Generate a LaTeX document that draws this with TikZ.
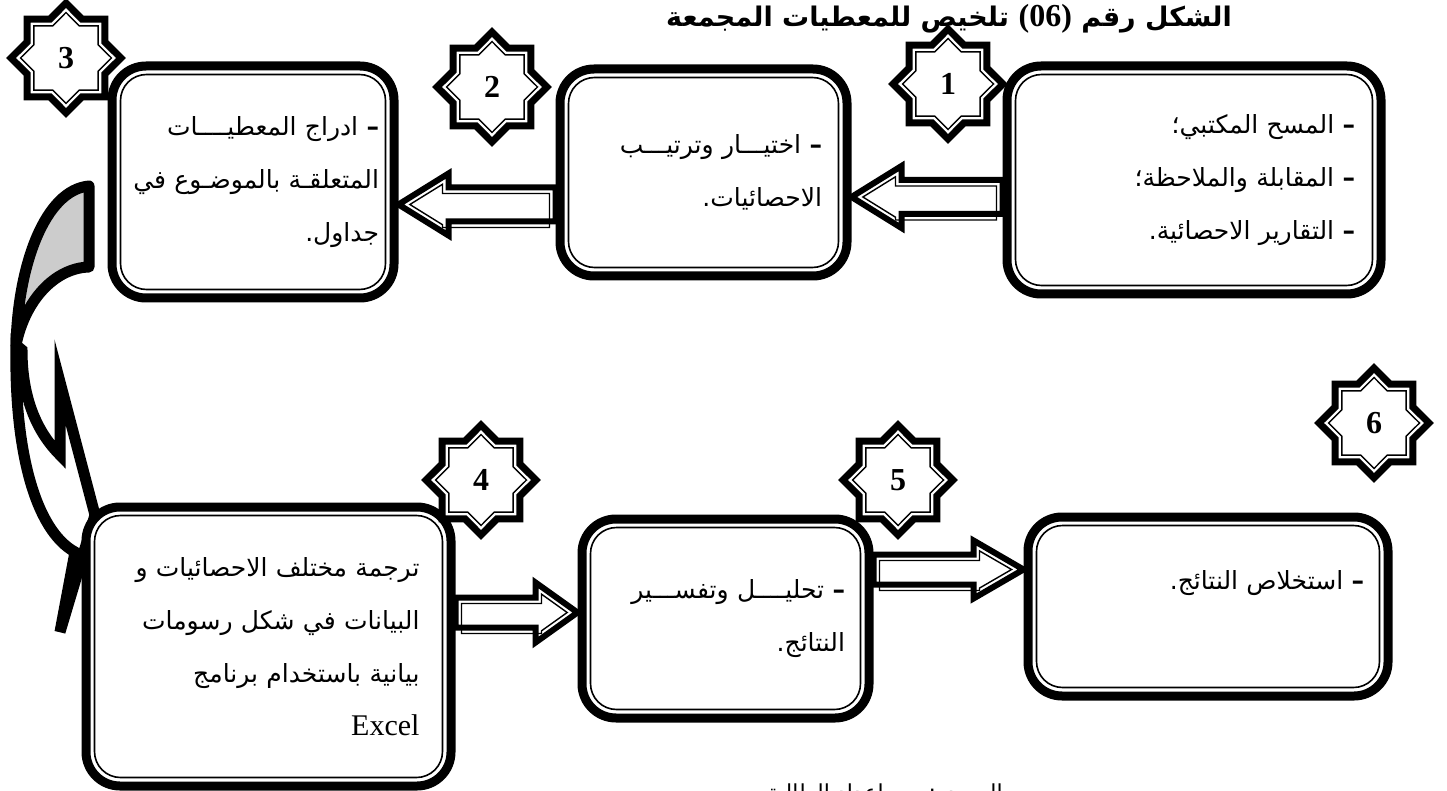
\documentclass[tikz,border=0pt]{standalone}
\usepackage{fontspec}
\usepackage{xcolor}
\usepackage{tikz}
\usetikzlibrary{calc,positioning,shapes.geometric}
\setmainfont{Liberation Serif}
\newfontfamily\arabicfont[Script=Arabic]{DejaVu Sans}
\TeXXeTstate=1
\definecolor{FrameInk}{HTML}{000000}
\definecolor{FoldGray}{HTML}{CCCCCC}
\definecolor{PageWhite}{HTML}{FFFFFF}
\newcommand{\dashmark}{{\bfseries –}\ }
\newcommand{\innerframe}[1]{%
    \draw[FrameInk, line width=1.6pt, rounded corners=26pt] ($(#1.north west)+(13,13)$) rectangle ($(#1.south east)+(-13,-13)$);
}
\newcommand{\arrowbody}[6]{%
    \draw[#1] let \p1=(#2), \p2=(#3), \n1={sign(\x2-\x1)} in
        (\x1,\y1+#4) -- (\x2-\n1*#6,\y1+#4) -- (\x2-\n1*#6,\y1+#5) -- (\x2,\y1)
        -- (\x2-\n1*#6,\y1-#5) -- (\x2-\n1*#6,\y1-#4) -- (\x1,\y1-#4) -- cycle;
}
\newcommand{\flowarrow}[5]{%
    \pgfmathsetmacro{\insetTip}{6/sin(atan(#4/#5))}
    \pgfmathsetmacro{\innerLen}{#5-6-\insetTip}
    \pgfmathsetmacro{\innerHead}{#4/#5*\innerLen}
    \arrowbody{arrowout}{#1}{#2}{#3pt}{#4pt}{#5pt}
    \arrowbody{arrowin}{$(#1)!6pt!(#2)$}{$(#2)!\insetTip pt!(#1)$}{#3pt-6pt}{\innerHead pt}{\innerLen pt}
}
\newcommand{\stepstar}[3]{%
    \node[starout] at (#1) {};
    \node[starin] (#2) at (#1) {#3};
}

\begin{document}
\begin{tikzpicture}[x=1pt, y=-1pt,
    stepbox/.style={draw=FrameInk, line width=9pt, rounded corners=34pt, fill=PageWhite,
        inner sep=0pt, align=right, font=\arabicfont\fontsize{25}{53}\selectfont},
    arrowout/.style={draw=FrameInk, line width=6pt, fill=PageWhite, line join=miter},
    arrowin/.style={draw=FrameInk, line width=1.4pt, line join=miter},
    starout/.style={star, star points=8, star point ratio=1.31, draw=FrameInk, line width=7pt,
        fill=PageWhite, minimum size=110pt, inner sep=0pt},
    starin/.style={star, star points=8, star point ratio=1.31, draw=FrameInk, line width=1.4pt,
        minimum size=91pt, inner sep=0pt, font=\bfseries\fontsize{32}{32}\selectfont}
]
    \useasboundingbox (0,0) rectangle (1447,791);
    \fill[PageWhite] (0,0) rectangle (1447,791);

    \draw[FrameInk, line width=11pt, fill=FoldGray, line join=round]
        (89,186) .. controls (45,190) and (18,265) .. (16,345)
        .. controls (25,300) and (55,268) .. (89,267) -- cycle;
    \draw[FrameInk, line width=11pt, fill=PageWhite, line join=miter]
        (16,345) .. controls (14,450) and (35,530) .. (75,552) -- (60,632) -- (95,515)
        -- (60,382) -- (60,455) .. controls (35,430) and (22,395) .. (22,350) -- cycle;

    \node[stepbox, minimum width=374pt, minimum height=228pt, text width=322pt] (n1) at (1194,180)
        {\beginR\dashmark المسح المكتبي؛\endR\\\beginR\dashmark المقابلة والملاحظة؛\endR\\\beginR\dashmark التقارير الاحصائية.\endR};
    \node[stepbox, left=151pt of n1, yshift=7.5pt, minimum width=287pt, minimum height=207pt, text width=237pt] (n2)
        {\beginR\dashmark اختيـــار وترتيـــب\endR\\\beginR الاحصائيات.\endR};
    \node[stepbox, left=157pt of n2, yshift=-9.5pt, minimum width=282pt, minimum height=232pt, text width=252pt] (n3)
        {\beginR\dashmark ادراج المعطيــــات\endR\\\beginR المتعلقـة بالموضـوع في\endR\\\beginR جداول.\endR};

    \node[stepbox, minimum width=365pt, minimum height=279pt, text width=302pt] (n4) at (268.5,646.5)
        {\beginR ترجمة مختلف الاحصائيات و\endR\\\beginR البيانات في شكل رسومات\endR\\\beginR بيانية باستخدام برنامج\endR\\{\rmfamily\fontsize{30}{48}\selectfont Excel}};
    \node[stepbox, right=122pt of n4, yshift=28pt, minimum width=287pt, minimum height=199pt, text width=239pt] (n5)
        {\beginR\dashmark تحليــــل وتفســـير\endR\\\beginR النتائج.\endR};
    \node[stepbox, right=150pt of n5, yshift=12pt, minimum width=360pt, minimum height=179pt, text width=312pt] (n6)
        {\beginR\dashmark استخلاص النتائج.\endR\\\mbox{}};

    \innerframe{n1}
    \innerframe{n2}
    \innerframe{n3}
    \innerframe{n4}
    \innerframe{n5}
    \innerframe{n6}

    \coordinate (a1t) at ($(n1.west)+(0,17)$);
    \coordinate (a1h) at (n2.east |- a1t);
    \coordinate (a2t) at ($(n2.west)+(0,32)$);
    \coordinate (a2h) at (n3.east |- a2t);
    \coordinate (a4t) at ($(n4.east)+(0,-34)$);
    \coordinate (a4h) at (n5.west |- a4t);
    \coordinate (a5t) at ($(n5.east)+(0,-49)$);
    \coordinate (a5h) at (n6.west |- a5t);

    \flowarrow{a1t}{a1h}{17}{31}{50}
    \flowarrow{a2t}{a2h}{17}{31}{50}
    \flowarrow{a4t}{a4h}{15}{30}{42}
    \flowarrow{a5t}{a5h}{15}{29}{50}

    \stepstar{66,58}{s3}{3}
    \stepstar{492,87}{s2}{2}
    \stepstar{948,84}{s1}{1}
    \stepstar{481,480}{s4}{4}
    \stepstar{898,480}{s5}{5}
    \stepstar{1374,423}{s6}{6}

    \node[anchor=base east, inner sep=0pt, font=\arabicfont\bfseries\fontsize{27}{27}\selectfont] (title) at (1232,27)
        {\beginR الشكل رقم \beginL{\rmfamily\bfseries\fontsize{32}{32}\selectfont(06)}\endL{} تلخيص للمعطيات المجمعة\endR};
    \node[anchor=base, inner sep=0pt, font=\arabicfont\fontsize{22}{22}\selectfont] (source) at (885,800)
        {\beginR المصدر: من إعداد الطالبة\endR};
\end{tikzpicture}
\end{document}
